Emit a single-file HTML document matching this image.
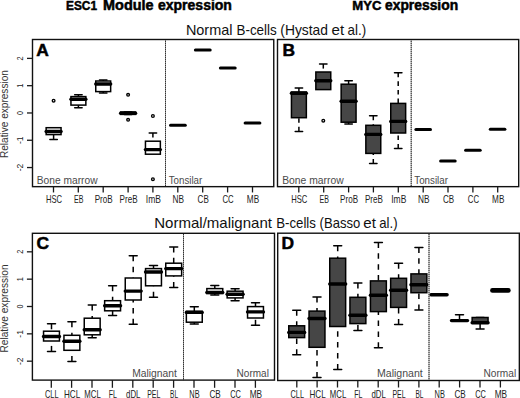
<!DOCTYPE html><html><head><meta charset="utf-8"><style>html,body{margin:0;padding:0;background:#fff;overflow:hidden;}svg{display:block;font-family:"Liberation Sans", sans-serif;}</style></head><body>
<svg width="520" height="398" viewBox="0 0 520 398">
<rect x="0" y="0" width="520" height="398" fill="#fff"/>
<text x="66.1" y="10.1" font-size="13.6" fill="#000" font-weight="bold" text-anchor="start" textLength="30.9" lengthAdjust="spacingAndGlyphs" stroke="#000" stroke-width="0.5">ESC1</text>
<text x="103.1" y="10.1" font-size="13.8" fill="#000" font-weight="bold" text-anchor="start" textLength="50.5" lengthAdjust="spacingAndGlyphs" stroke="#000" stroke-width="0.5">Module</text>
<text x="158" y="10.1" font-size="13.8" fill="#000" font-weight="bold" text-anchor="start" textLength="73.9" lengthAdjust="spacingAndGlyphs" stroke="#000" stroke-width="0.5">expression</text>
<text x="352.3" y="10.1" font-size="13.6" fill="#000" font-weight="bold" text-anchor="start" textLength="29.05" lengthAdjust="spacingAndGlyphs" stroke="#000" stroke-width="0.5">MYC</text>
<text x="385" y="10.1" font-size="13.8" fill="#000" font-weight="bold" text-anchor="start" textLength="73.1" lengthAdjust="spacingAndGlyphs" stroke="#000" stroke-width="0.5">expression</text>
<text x="185.9" y="35" font-size="14.2" fill="#111" font-weight="normal" text-anchor="start" textLength="46.6" lengthAdjust="spacingAndGlyphs">Normal</text>
<text x="236.5" y="35" font-size="14.2" fill="#111" font-weight="normal" text-anchor="start" textLength="40.2" lengthAdjust="spacingAndGlyphs">B-cells</text>
<text x="280.3" y="35" font-size="14.2" fill="#111" font-weight="normal" text-anchor="start" textLength="47.7" lengthAdjust="spacingAndGlyphs">(Hystad</text>
<text x="331.6" y="35" font-size="14.2" fill="#111" font-weight="normal" text-anchor="start" textLength="12.6" lengthAdjust="spacingAndGlyphs">et</text>
<text x="347.6" y="35" font-size="14.2" fill="#111" font-weight="normal" text-anchor="start" textLength="18.6" lengthAdjust="spacingAndGlyphs">al.)</text>
<text x="154.2" y="227.6" font-size="14.2" fill="#111" font-weight="normal" text-anchor="start" textLength="117.8" lengthAdjust="spacingAndGlyphs">Normal/malignant</text>
<text x="276.2" y="227.6" font-size="14.2" fill="#111" font-weight="normal" text-anchor="start" textLength="39.7" lengthAdjust="spacingAndGlyphs">B-cells</text>
<text x="319.6" y="227.6" font-size="14.2" fill="#111" font-weight="normal" text-anchor="start" textLength="40.7" lengthAdjust="spacingAndGlyphs">(Basso</text>
<text x="363.3" y="227.6" font-size="14.2" fill="#111" font-weight="normal" text-anchor="start" textLength="12.6" lengthAdjust="spacingAndGlyphs">et</text>
<text x="379.3" y="227.6" font-size="14.2" fill="#111" font-weight="normal" text-anchor="start" textLength="18.3" lengthAdjust="spacingAndGlyphs">al.)</text>
<line x1="53.6" y1="139.5" x2="53.6" y2="134.6" stroke="#000" stroke-width="1.5" stroke-linecap="butt" stroke-dasharray="4.6 4.0"/>
<line x1="49.88" y1="139.5" x2="57.33" y2="139.5" stroke="#000" stroke-width="1.5" stroke-linecap="round"/>
<rect x="46.15" y="127.7" width="14.9" height="6.9" fill="#fff" stroke="#000" stroke-width="1.5"/>
<line x1="46.15" y1="131.5" x2="61.05" y2="131.5" stroke="#000" stroke-width="3.4" stroke-linecap="round"/>
<circle cx="53.6" cy="100.7" r="1.35" fill="none" stroke="#000" stroke-width="1.35"/>
<line x1="78.4" y1="94.8" x2="78.4" y2="96.6" stroke="#000" stroke-width="1.5" stroke-linecap="butt" stroke-dasharray="4.6 4.0"/>
<line x1="78.4" y1="107.7" x2="78.4" y2="105.1" stroke="#000" stroke-width="1.5" stroke-linecap="butt" stroke-dasharray="4.6 4.0"/>
<line x1="74.68" y1="94.8" x2="82.12" y2="94.8" stroke="#000" stroke-width="1.5" stroke-linecap="round"/>
<line x1="74.68" y1="107.7" x2="82.12" y2="107.7" stroke="#000" stroke-width="1.5" stroke-linecap="round"/>
<rect x="70.95" y="96.6" width="14.9" height="8.5" fill="#fff" stroke="#000" stroke-width="1.5"/>
<line x1="70.95" y1="99.25" x2="85.85" y2="99.25" stroke="#000" stroke-width="3.4" stroke-linecap="round"/>
<line x1="103.2" y1="79.9" x2="103.2" y2="81" stroke="#000" stroke-width="1.5" stroke-linecap="butt" stroke-dasharray="4.6 4.0"/>
<line x1="103.2" y1="93" x2="103.2" y2="91.6" stroke="#000" stroke-width="1.5" stroke-linecap="butt" stroke-dasharray="4.6 4.0"/>
<line x1="99.48" y1="79.9" x2="106.92" y2="79.9" stroke="#000" stroke-width="1.5" stroke-linecap="round"/>
<line x1="99.48" y1="93" x2="106.92" y2="93" stroke="#000" stroke-width="1.5" stroke-linecap="round"/>
<rect x="95.75" y="81" width="14.9" height="10.6" fill="#fff" stroke="#000" stroke-width="1.5"/>
<line x1="95.75" y1="84" x2="110.65" y2="84" stroke="#000" stroke-width="3.4" stroke-linecap="round"/>
<line x1="124.38" y1="111.9" x2="131.82" y2="111.9" stroke="#000" stroke-width="1.5" stroke-linecap="round"/>
<line x1="124.38" y1="114.5" x2="131.82" y2="114.5" stroke="#000" stroke-width="1.5" stroke-linecap="round"/>
<rect x="120.65" y="112" width="14.9" height="2.4" fill="#fff" stroke="#000" stroke-width="1.5"/>
<line x1="120.65" y1="113.2" x2="135.55" y2="113.2" stroke="#000" stroke-width="3.4" stroke-linecap="round"/>
<circle cx="128.1" cy="94.8" r="1.35" fill="none" stroke="#000" stroke-width="1.35"/>
<circle cx="128.1" cy="119.8" r="1.35" fill="none" stroke="#000" stroke-width="1.35"/>
<line x1="152.9" y1="132.9" x2="152.9" y2="141.2" stroke="#000" stroke-width="1.5" stroke-linecap="butt" stroke-dasharray="4.6 4.0"/>
<line x1="149.18" y1="132.9" x2="156.62" y2="132.9" stroke="#000" stroke-width="1.5" stroke-linecap="round"/>
<rect x="145.45" y="141.2" width="14.9" height="13" fill="#fff" stroke="#000" stroke-width="1.5"/>
<line x1="145.45" y1="149.6" x2="160.35" y2="149.6" stroke="#000" stroke-width="3.4" stroke-linecap="round"/>
<circle cx="152.9" cy="116" r="1.35" fill="none" stroke="#000" stroke-width="1.35"/>
<circle cx="152.9" cy="179.2" r="1.35" fill="none" stroke="#000" stroke-width="1.35"/>
<line x1="170.5" y1="125.3" x2="185.3" y2="125.3" stroke="#000" stroke-width="3" stroke-linecap="round"/>
<line x1="195.4" y1="50.1" x2="210.2" y2="50.1" stroke="#000" stroke-width="3" stroke-linecap="round"/>
<line x1="220.4" y1="68.1" x2="235.2" y2="68.1" stroke="#000" stroke-width="3" stroke-linecap="round"/>
<line x1="245.1" y1="123.1" x2="259.9" y2="123.1" stroke="#000" stroke-width="3" stroke-linecap="round"/>
<line x1="165.5" y1="39.5" x2="165.5" y2="186.65" stroke="#8c8c8c" stroke-width="1" stroke-linecap="butt"/>
<line x1="165.5" y1="39" x2="165.5" y2="186.65" stroke="#333" stroke-width="1" stroke-linecap="butt" stroke-dasharray="1 1"/>
<rect x="32.5" y="39.5" width="241.25" height="147.15" fill="none" stroke="#111" stroke-width="1.4"/>
<text x="36.3" y="55.9" font-size="17.4" fill="#000" font-weight="bold" text-anchor="start" stroke="#000" stroke-width="0.5">A</text>
<text x="36.8" y="183.8" font-size="10.2" fill="#4a4a4a" font-weight="normal" text-anchor="start" textLength="60.8" lengthAdjust="spacingAndGlyphs">Bone marrow</text>
<text x="168.7" y="183.8" font-size="10.2" fill="#4a4a4a" font-weight="normal" text-anchor="start" textLength="33.6" lengthAdjust="spacingAndGlyphs">Tonsilar</text>
<line x1="27" y1="58.39" x2="32.5" y2="58.39" stroke="#1a1a1a" stroke-width="1.3" stroke-linecap="butt"/>
<text transform="translate(23.2,58.39) rotate(-90)" font-size="8.6" fill="#222" text-anchor="middle" textLength="4" lengthAdjust="spacingAndGlyphs">2</text>
<line x1="27" y1="85.68" x2="32.5" y2="85.68" stroke="#1a1a1a" stroke-width="1.3" stroke-linecap="butt"/>
<text transform="translate(23.2,85.68) rotate(-90)" font-size="8.6" fill="#222" text-anchor="middle" textLength="4" lengthAdjust="spacingAndGlyphs">1</text>
<line x1="27" y1="112.97" x2="32.5" y2="112.97" stroke="#1a1a1a" stroke-width="1.3" stroke-linecap="butt"/>
<text transform="translate(23.2,112.97) rotate(-90)" font-size="8.6" fill="#222" text-anchor="middle" textLength="4" lengthAdjust="spacingAndGlyphs">0</text>
<line x1="27" y1="140.26" x2="32.5" y2="140.26" stroke="#1a1a1a" stroke-width="1.3" stroke-linecap="butt"/>
<text transform="translate(23.2,140.26) rotate(-90)" font-size="8.6" fill="#222" text-anchor="middle" textLength="7.6" lengthAdjust="spacingAndGlyphs">-1</text>
<line x1="27" y1="167.55" x2="32.5" y2="167.55" stroke="#1a1a1a" stroke-width="1.3" stroke-linecap="butt"/>
<text transform="translate(23.2,167.55) rotate(-90)" font-size="8.6" fill="#222" text-anchor="middle" textLength="7.6" lengthAdjust="spacingAndGlyphs">-2</text>
<text transform="translate(7.8,114.1) rotate(-90)" font-size="10" fill="#333" text-anchor="middle" textLength="88" lengthAdjust="spacingAndGlyphs">Relative expression</text>
<line x1="53.5" y1="186.65" x2="53.5" y2="192.45" stroke="#1a1a1a" stroke-width="1.3" stroke-linecap="butt"/>
<text x="54" y="202.9" font-size="10.1" fill="#222" font-weight="normal" text-anchor="middle" textLength="16.1" lengthAdjust="spacingAndGlyphs">HSC</text>
<line x1="78.3" y1="186.65" x2="78.3" y2="192.45" stroke="#1a1a1a" stroke-width="1.3" stroke-linecap="butt"/>
<text x="78.8" y="202.9" font-size="10.1" fill="#222" font-weight="normal" text-anchor="middle" textLength="9.4" lengthAdjust="spacingAndGlyphs">EB</text>
<line x1="103.2" y1="186.65" x2="103.2" y2="192.45" stroke="#1a1a1a" stroke-width="1.3" stroke-linecap="butt"/>
<text x="103.7" y="202.9" font-size="10.1" fill="#222" font-weight="normal" text-anchor="middle" textLength="18" lengthAdjust="spacingAndGlyphs">ProB</text>
<line x1="128.1" y1="186.65" x2="128.1" y2="192.45" stroke="#1a1a1a" stroke-width="1.3" stroke-linecap="butt"/>
<text x="128.6" y="202.9" font-size="10.1" fill="#222" font-weight="normal" text-anchor="middle" textLength="18" lengthAdjust="spacingAndGlyphs">PreB</text>
<line x1="152.9" y1="186.65" x2="152.9" y2="192.45" stroke="#1a1a1a" stroke-width="1.3" stroke-linecap="butt"/>
<text x="153.4" y="202.9" font-size="10.1" fill="#222" font-weight="normal" text-anchor="middle" textLength="15.1" lengthAdjust="spacingAndGlyphs">ImB</text>
<line x1="177.8" y1="186.65" x2="177.8" y2="192.45" stroke="#1a1a1a" stroke-width="1.3" stroke-linecap="butt"/>
<text x="178.3" y="202.9" font-size="10.1" fill="#222" font-weight="normal" text-anchor="middle" textLength="11.5" lengthAdjust="spacingAndGlyphs">NB</text>
<line x1="202.7" y1="186.65" x2="202.7" y2="192.45" stroke="#1a1a1a" stroke-width="1.3" stroke-linecap="butt"/>
<text x="203.2" y="202.9" font-size="10.1" fill="#222" font-weight="normal" text-anchor="middle" textLength="11.2" lengthAdjust="spacingAndGlyphs">CB</text>
<line x1="227.6" y1="186.65" x2="227.6" y2="192.45" stroke="#1a1a1a" stroke-width="1.3" stroke-linecap="butt"/>
<text x="228.1" y="202.9" font-size="10.1" fill="#222" font-weight="normal" text-anchor="middle" textLength="11.2" lengthAdjust="spacingAndGlyphs">CC</text>
<line x1="252.5" y1="186.65" x2="252.5" y2="192.45" stroke="#1a1a1a" stroke-width="1.3" stroke-linecap="butt"/>
<text x="253" y="202.9" font-size="10.1" fill="#222" font-weight="normal" text-anchor="middle" textLength="12.3" lengthAdjust="spacingAndGlyphs">MB</text>
<line x1="298.9" y1="88.05" x2="298.9" y2="92" stroke="#000" stroke-width="1.5" stroke-linecap="butt" stroke-dasharray="4.6 4.0"/>
<line x1="298.9" y1="131.4" x2="298.9" y2="117.7" stroke="#000" stroke-width="1.5" stroke-linecap="butt" stroke-dasharray="4.6 4.0"/>
<line x1="295.17" y1="88.05" x2="302.62" y2="88.05" stroke="#000" stroke-width="1.5" stroke-linecap="round"/>
<line x1="295.17" y1="131.4" x2="302.62" y2="131.4" stroke="#000" stroke-width="1.5" stroke-linecap="round"/>
<rect x="291.45" y="92" width="14.9" height="25.7" fill="#464646" stroke="#000" stroke-width="1.5"/>
<line x1="291.45" y1="93.3" x2="306.35" y2="93.3" stroke="#000" stroke-width="3.4" stroke-linecap="round"/>
<line x1="323.3" y1="64" x2="323.3" y2="72" stroke="#000" stroke-width="1.5" stroke-linecap="butt" stroke-dasharray="4.6 4.0"/>
<line x1="319.57" y1="64" x2="327.03" y2="64" stroke="#000" stroke-width="1.5" stroke-linecap="round"/>
<rect x="315.85" y="72" width="14.9" height="17.6" fill="#464646" stroke="#000" stroke-width="1.5"/>
<line x1="315.85" y1="80.7" x2="330.75" y2="80.7" stroke="#000" stroke-width="3.4" stroke-linecap="round"/>
<circle cx="323.3" cy="120.7" r="1.35" fill="none" stroke="#000" stroke-width="1.35"/>
<line x1="348.6" y1="80.8" x2="348.6" y2="84.2" stroke="#000" stroke-width="1.5" stroke-linecap="butt" stroke-dasharray="4.6 4.0"/>
<line x1="348.6" y1="124.1" x2="348.6" y2="122.2" stroke="#000" stroke-width="1.5" stroke-linecap="butt" stroke-dasharray="4.6 4.0"/>
<line x1="344.88" y1="80.8" x2="352.33" y2="80.8" stroke="#000" stroke-width="1.5" stroke-linecap="round"/>
<line x1="344.88" y1="124.1" x2="352.33" y2="124.1" stroke="#000" stroke-width="1.5" stroke-linecap="round"/>
<rect x="341.15" y="84.2" width="14.9" height="38" fill="#464646" stroke="#000" stroke-width="1.5"/>
<line x1="341.15" y1="101.3" x2="356.05" y2="101.3" stroke="#000" stroke-width="3.4" stroke-linecap="round"/>
<line x1="373.3" y1="115.7" x2="373.3" y2="125.3" stroke="#000" stroke-width="1.5" stroke-linecap="butt" stroke-dasharray="4.6 4.0"/>
<line x1="373.3" y1="163.5" x2="373.3" y2="153.4" stroke="#000" stroke-width="1.5" stroke-linecap="butt" stroke-dasharray="4.6 4.0"/>
<line x1="369.57" y1="115.7" x2="377.03" y2="115.7" stroke="#000" stroke-width="1.5" stroke-linecap="round"/>
<line x1="369.57" y1="163.5" x2="377.03" y2="163.5" stroke="#000" stroke-width="1.5" stroke-linecap="round"/>
<rect x="365.85" y="125.3" width="14.9" height="28.1" fill="#464646" stroke="#000" stroke-width="1.5"/>
<line x1="365.85" y1="134.4" x2="380.75" y2="134.4" stroke="#000" stroke-width="3.4" stroke-linecap="round"/>
<line x1="398.2" y1="72.7" x2="398.2" y2="103.4" stroke="#000" stroke-width="1.5" stroke-linecap="butt" stroke-dasharray="4.6 4.0"/>
<line x1="398.2" y1="148.6" x2="398.2" y2="133" stroke="#000" stroke-width="1.5" stroke-linecap="butt" stroke-dasharray="4.6 4.0"/>
<line x1="394.47" y1="72.7" x2="401.93" y2="72.7" stroke="#000" stroke-width="1.5" stroke-linecap="round"/>
<line x1="394.47" y1="148.6" x2="401.93" y2="148.6" stroke="#000" stroke-width="1.5" stroke-linecap="round"/>
<rect x="390.75" y="103.4" width="14.9" height="29.6" fill="#464646" stroke="#000" stroke-width="1.5"/>
<line x1="390.75" y1="121.4" x2="405.65" y2="121.4" stroke="#000" stroke-width="3.4" stroke-linecap="round"/>
<line x1="415.9" y1="129.5" x2="430.5" y2="129.5" stroke="#000" stroke-width="3" stroke-linecap="round"/>
<line x1="440.6" y1="161" x2="455.2" y2="161" stroke="#000" stroke-width="3" stroke-linecap="round"/>
<line x1="465.6" y1="150.2" x2="480.2" y2="150.2" stroke="#000" stroke-width="3" stroke-linecap="round"/>
<line x1="490.3" y1="129.2" x2="504.9" y2="129.2" stroke="#000" stroke-width="3" stroke-linecap="round"/>
<line x1="411.2" y1="39.5" x2="411.2" y2="186.65" stroke="#8c8c8c" stroke-width="1" stroke-linecap="butt"/>
<line x1="411.2" y1="39" x2="411.2" y2="186.65" stroke="#333" stroke-width="1" stroke-linecap="butt" stroke-dasharray="1 1"/>
<rect x="277.5" y="39.5" width="241.2" height="147.15" fill="none" stroke="#111" stroke-width="1.4"/>
<text x="282.4" y="55.9" font-size="17.4" fill="#000" font-weight="bold" text-anchor="start" stroke="#000" stroke-width="0.5">B</text>
<text x="282.2" y="183.8" font-size="10.2" fill="#4a4a4a" font-weight="normal" text-anchor="start" textLength="61.5" lengthAdjust="spacingAndGlyphs">Bone marrow</text>
<text x="414.3" y="183.8" font-size="10.2" fill="#4a4a4a" font-weight="normal" text-anchor="start" textLength="33.6" lengthAdjust="spacingAndGlyphs">Tonsilar</text>
<line x1="298.8" y1="186.65" x2="298.8" y2="192.45" stroke="#1a1a1a" stroke-width="1.3" stroke-linecap="butt"/>
<text x="299.3" y="202.9" font-size="10.1" fill="#222" font-weight="normal" text-anchor="middle" textLength="16.1" lengthAdjust="spacingAndGlyphs">HSC</text>
<line x1="323.7" y1="186.65" x2="323.7" y2="192.45" stroke="#1a1a1a" stroke-width="1.3" stroke-linecap="butt"/>
<text x="324.2" y="202.9" font-size="10.1" fill="#222" font-weight="normal" text-anchor="middle" textLength="9.4" lengthAdjust="spacingAndGlyphs">EB</text>
<line x1="348.6" y1="186.65" x2="348.6" y2="192.45" stroke="#1a1a1a" stroke-width="1.3" stroke-linecap="butt"/>
<text x="349.1" y="202.9" font-size="10.1" fill="#222" font-weight="normal" text-anchor="middle" textLength="18" lengthAdjust="spacingAndGlyphs">ProB</text>
<line x1="373.4" y1="186.65" x2="373.4" y2="192.45" stroke="#1a1a1a" stroke-width="1.3" stroke-linecap="butt"/>
<text x="373.9" y="202.9" font-size="10.1" fill="#222" font-weight="normal" text-anchor="middle" textLength="18" lengthAdjust="spacingAndGlyphs">PreB</text>
<line x1="398.3" y1="186.65" x2="398.3" y2="192.45" stroke="#1a1a1a" stroke-width="1.3" stroke-linecap="butt"/>
<text x="398.8" y="202.9" font-size="10.1" fill="#222" font-weight="normal" text-anchor="middle" textLength="15.1" lengthAdjust="spacingAndGlyphs">ImB</text>
<line x1="423.2" y1="186.65" x2="423.2" y2="192.45" stroke="#1a1a1a" stroke-width="1.3" stroke-linecap="butt"/>
<text x="423.7" y="202.9" font-size="10.1" fill="#222" font-weight="normal" text-anchor="middle" textLength="11.5" lengthAdjust="spacingAndGlyphs">NB</text>
<line x1="448" y1="186.65" x2="448" y2="192.45" stroke="#1a1a1a" stroke-width="1.3" stroke-linecap="butt"/>
<text x="448.5" y="202.9" font-size="10.1" fill="#222" font-weight="normal" text-anchor="middle" textLength="11.2" lengthAdjust="spacingAndGlyphs">CB</text>
<line x1="472.9" y1="186.65" x2="472.9" y2="192.45" stroke="#1a1a1a" stroke-width="1.3" stroke-linecap="butt"/>
<text x="473.4" y="202.9" font-size="10.1" fill="#222" font-weight="normal" text-anchor="middle" textLength="11.2" lengthAdjust="spacingAndGlyphs">CC</text>
<line x1="497.7" y1="186.65" x2="497.7" y2="192.45" stroke="#1a1a1a" stroke-width="1.3" stroke-linecap="butt"/>
<text x="498.2" y="202.9" font-size="10.1" fill="#222" font-weight="normal" text-anchor="middle" textLength="12.3" lengthAdjust="spacingAndGlyphs">MB</text>
<line x1="51.5" y1="323.8" x2="51.5" y2="331.2" stroke="#000" stroke-width="1.5" stroke-linecap="butt" stroke-dasharray="5.5 5.4"/>
<line x1="51.5" y1="351.4" x2="51.5" y2="341" stroke="#000" stroke-width="1.5" stroke-linecap="butt" stroke-dasharray="5.5 5.4"/>
<line x1="47.52" y1="323.8" x2="55.48" y2="323.8" stroke="#000" stroke-width="1.5" stroke-linecap="round"/>
<line x1="47.52" y1="351.4" x2="55.48" y2="351.4" stroke="#000" stroke-width="1.5" stroke-linecap="round"/>
<rect x="43.55" y="331.2" width="15.9" height="9.8" fill="#fff" stroke="#000" stroke-width="1.5"/>
<line x1="43.55" y1="336.5" x2="59.45" y2="336.5" stroke="#000" stroke-width="3.4" stroke-linecap="round"/>
<line x1="71.9" y1="321.8" x2="71.9" y2="335.3" stroke="#000" stroke-width="1.5" stroke-linecap="butt" stroke-dasharray="5.5 5.4"/>
<line x1="71.9" y1="361.4" x2="71.9" y2="350.3" stroke="#000" stroke-width="1.5" stroke-linecap="butt" stroke-dasharray="5.5 5.4"/>
<line x1="67.93" y1="321.8" x2="75.88" y2="321.8" stroke="#000" stroke-width="1.5" stroke-linecap="round"/>
<line x1="67.93" y1="361.4" x2="75.88" y2="361.4" stroke="#000" stroke-width="1.5" stroke-linecap="round"/>
<rect x="63.95" y="335.3" width="15.9" height="15" fill="#fff" stroke="#000" stroke-width="1.5"/>
<line x1="63.95" y1="341.3" x2="79.85" y2="341.3" stroke="#000" stroke-width="3.4" stroke-linecap="round"/>
<line x1="92.2" y1="305" x2="92.2" y2="318.2" stroke="#000" stroke-width="1.5" stroke-linecap="butt" stroke-dasharray="5.5 5.4"/>
<line x1="92.2" y1="337.8" x2="92.2" y2="334.8" stroke="#000" stroke-width="1.5" stroke-linecap="butt" stroke-dasharray="5.5 5.4"/>
<line x1="88.23" y1="305" x2="96.17" y2="305" stroke="#000" stroke-width="1.5" stroke-linecap="round"/>
<line x1="88.23" y1="337.8" x2="96.17" y2="337.8" stroke="#000" stroke-width="1.5" stroke-linecap="round"/>
<rect x="84.25" y="318.2" width="15.9" height="16.6" fill="#fff" stroke="#000" stroke-width="1.5"/>
<line x1="84.25" y1="329.8" x2="100.15" y2="329.8" stroke="#000" stroke-width="3.4" stroke-linecap="round"/>
<line x1="112.6" y1="285.8" x2="112.6" y2="300.7" stroke="#000" stroke-width="1.5" stroke-linecap="butt" stroke-dasharray="5.5 5.4"/>
<line x1="112.6" y1="315.4" x2="112.6" y2="310.8" stroke="#000" stroke-width="1.5" stroke-linecap="butt" stroke-dasharray="5.5 5.4"/>
<line x1="108.62" y1="285.8" x2="116.57" y2="285.8" stroke="#000" stroke-width="1.5" stroke-linecap="round"/>
<line x1="108.62" y1="315.4" x2="116.57" y2="315.4" stroke="#000" stroke-width="1.5" stroke-linecap="round"/>
<rect x="104.65" y="300.7" width="15.9" height="10.1" fill="#fff" stroke="#000" stroke-width="1.5"/>
<line x1="104.65" y1="305.7" x2="120.55" y2="305.7" stroke="#000" stroke-width="3.4" stroke-linecap="round"/>
<line x1="133.2" y1="255.8" x2="133.2" y2="278" stroke="#000" stroke-width="1.5" stroke-linecap="butt" stroke-dasharray="5.5 5.4"/>
<line x1="133.2" y1="324.3" x2="133.2" y2="300" stroke="#000" stroke-width="1.5" stroke-linecap="butt" stroke-dasharray="5.5 5.4"/>
<line x1="129.22" y1="255.8" x2="137.17" y2="255.8" stroke="#000" stroke-width="1.5" stroke-linecap="round"/>
<line x1="129.22" y1="324.3" x2="137.17" y2="324.3" stroke="#000" stroke-width="1.5" stroke-linecap="round"/>
<rect x="125.25" y="278" width="15.9" height="22" fill="#fff" stroke="#000" stroke-width="1.5"/>
<line x1="125.25" y1="291.1" x2="141.15" y2="291.1" stroke="#000" stroke-width="3.4" stroke-linecap="round"/>
<line x1="153.5" y1="265.4" x2="153.5" y2="268.6" stroke="#000" stroke-width="1.5" stroke-linecap="butt" stroke-dasharray="5.5 5.4"/>
<line x1="153.5" y1="297.2" x2="153.5" y2="285.8" stroke="#000" stroke-width="1.5" stroke-linecap="butt" stroke-dasharray="5.5 5.4"/>
<line x1="149.53" y1="265.4" x2="157.47" y2="265.4" stroke="#000" stroke-width="1.5" stroke-linecap="round"/>
<line x1="149.53" y1="297.2" x2="157.47" y2="297.2" stroke="#000" stroke-width="1.5" stroke-linecap="round"/>
<rect x="145.55" y="268.6" width="15.9" height="17.2" fill="#fff" stroke="#000" stroke-width="1.5"/>
<line x1="145.55" y1="272" x2="161.45" y2="272" stroke="#000" stroke-width="3.4" stroke-linecap="round"/>
<line x1="173.7" y1="246.9" x2="173.7" y2="263.2" stroke="#000" stroke-width="1.5" stroke-linecap="butt" stroke-dasharray="5.5 5.4"/>
<line x1="173.7" y1="287.6" x2="173.7" y2="275.9" stroke="#000" stroke-width="1.5" stroke-linecap="butt" stroke-dasharray="5.5 5.4"/>
<line x1="169.72" y1="246.9" x2="177.67" y2="246.9" stroke="#000" stroke-width="1.5" stroke-linecap="round"/>
<line x1="169.72" y1="287.6" x2="177.67" y2="287.6" stroke="#000" stroke-width="1.5" stroke-linecap="round"/>
<rect x="165.75" y="263.2" width="15.9" height="12.7" fill="#fff" stroke="#000" stroke-width="1.5"/>
<line x1="165.75" y1="268.6" x2="181.65" y2="268.6" stroke="#000" stroke-width="3.4" stroke-linecap="round"/>
<line x1="194.3" y1="306.8" x2="194.3" y2="311.3" stroke="#000" stroke-width="1.5" stroke-linecap="butt" stroke-dasharray="5.5 5.4"/>
<line x1="194.3" y1="324.1" x2="194.3" y2="322.2" stroke="#000" stroke-width="1.5" stroke-linecap="butt" stroke-dasharray="5.5 5.4"/>
<line x1="190.33" y1="306.8" x2="198.28" y2="306.8" stroke="#000" stroke-width="1.5" stroke-linecap="round"/>
<line x1="190.33" y1="324.1" x2="198.28" y2="324.1" stroke="#000" stroke-width="1.5" stroke-linecap="round"/>
<rect x="186.35" y="311.3" width="15.9" height="10.9" fill="#fff" stroke="#000" stroke-width="1.5"/>
<line x1="186.35" y1="312.4" x2="202.25" y2="312.4" stroke="#000" stroke-width="3.4" stroke-linecap="round"/>
<line x1="214.8" y1="285.6" x2="214.8" y2="288.6" stroke="#000" stroke-width="1.5" stroke-linecap="butt" stroke-dasharray="5.5 5.4"/>
<line x1="214.8" y1="295" x2="214.8" y2="293.6" stroke="#000" stroke-width="1.5" stroke-linecap="butt" stroke-dasharray="5.5 5.4"/>
<line x1="210.83" y1="285.6" x2="218.78" y2="285.6" stroke="#000" stroke-width="1.5" stroke-linecap="round"/>
<line x1="210.83" y1="295" x2="218.78" y2="295" stroke="#000" stroke-width="1.5" stroke-linecap="round"/>
<rect x="206.85" y="288.6" width="15.9" height="5" fill="#fff" stroke="#000" stroke-width="1.5"/>
<line x1="206.85" y1="292.4" x2="222.75" y2="292.4" stroke="#000" stroke-width="3.4" stroke-linecap="round"/>
<line x1="235.1" y1="288.7" x2="235.1" y2="291.2" stroke="#000" stroke-width="1.5" stroke-linecap="butt" stroke-dasharray="5.5 5.4"/>
<line x1="235.1" y1="300.7" x2="235.1" y2="297.9" stroke="#000" stroke-width="1.5" stroke-linecap="butt" stroke-dasharray="5.5 5.4"/>
<line x1="231.12" y1="288.7" x2="239.07" y2="288.7" stroke="#000" stroke-width="1.5" stroke-linecap="round"/>
<line x1="231.12" y1="300.7" x2="239.07" y2="300.7" stroke="#000" stroke-width="1.5" stroke-linecap="round"/>
<rect x="227.15" y="291.2" width="15.9" height="6.7" fill="#fff" stroke="#000" stroke-width="1.5"/>
<line x1="227.15" y1="294.3" x2="243.05" y2="294.3" stroke="#000" stroke-width="3.4" stroke-linecap="round"/>
<line x1="255.5" y1="302.7" x2="255.5" y2="306.6" stroke="#000" stroke-width="1.5" stroke-linecap="butt" stroke-dasharray="5.5 5.4"/>
<line x1="255.5" y1="325.3" x2="255.5" y2="318" stroke="#000" stroke-width="1.5" stroke-linecap="butt" stroke-dasharray="5.5 5.4"/>
<line x1="251.53" y1="302.7" x2="259.48" y2="302.7" stroke="#000" stroke-width="1.5" stroke-linecap="round"/>
<line x1="251.53" y1="325.3" x2="259.48" y2="325.3" stroke="#000" stroke-width="1.5" stroke-linecap="round"/>
<rect x="247.55" y="306.6" width="15.9" height="11.4" fill="#fff" stroke="#000" stroke-width="1.5"/>
<line x1="247.55" y1="311.9" x2="263.45" y2="311.9" stroke="#000" stroke-width="3.4" stroke-linecap="round"/>
<line x1="183.5" y1="233.3" x2="183.5" y2="380.1" stroke="#8c8c8c" stroke-width="1" stroke-linecap="butt"/>
<line x1="183.5" y1="234" x2="183.5" y2="380.1" stroke="#333" stroke-width="1" stroke-linecap="butt" stroke-dasharray="1 1"/>
<rect x="32.4" y="233.3" width="242.1" height="146.8" fill="none" stroke="#111" stroke-width="1.4"/>
<text x="36.6" y="249.2" font-size="17.4" fill="#000" font-weight="bold" text-anchor="start" stroke="#000" stroke-width="0.5">C</text>
<text x="132.2" y="376.7" font-size="10.4" fill="#4a4a4a" font-weight="normal" text-anchor="start" textLength="44.7" lengthAdjust="spacingAndGlyphs">Malignant</text>
<text x="236.6" y="376.9" font-size="10.4" fill="#4a4a4a" font-weight="normal" text-anchor="start" textLength="32.3" lengthAdjust="spacingAndGlyphs">Normal</text>
<line x1="26.9" y1="251.82" x2="32.4" y2="251.82" stroke="#1a1a1a" stroke-width="1.3" stroke-linecap="butt"/>
<text transform="translate(23.2,251.82) rotate(-90)" font-size="8.6" fill="#222" text-anchor="middle" textLength="4" lengthAdjust="spacingAndGlyphs">2</text>
<line x1="26.9" y1="279.16" x2="32.4" y2="279.16" stroke="#1a1a1a" stroke-width="1.3" stroke-linecap="butt"/>
<text transform="translate(23.2,279.16) rotate(-90)" font-size="8.6" fill="#222" text-anchor="middle" textLength="4" lengthAdjust="spacingAndGlyphs">1</text>
<line x1="26.9" y1="306.5" x2="32.4" y2="306.5" stroke="#1a1a1a" stroke-width="1.3" stroke-linecap="butt"/>
<text transform="translate(23.2,306.5) rotate(-90)" font-size="8.6" fill="#222" text-anchor="middle" textLength="4" lengthAdjust="spacingAndGlyphs">0</text>
<line x1="26.9" y1="333.84" x2="32.4" y2="333.84" stroke="#1a1a1a" stroke-width="1.3" stroke-linecap="butt"/>
<text transform="translate(23.2,333.84) rotate(-90)" font-size="8.6" fill="#222" text-anchor="middle" textLength="7.6" lengthAdjust="spacingAndGlyphs">-1</text>
<line x1="26.9" y1="361.18" x2="32.4" y2="361.18" stroke="#1a1a1a" stroke-width="1.3" stroke-linecap="butt"/>
<text transform="translate(23.2,361.18) rotate(-90)" font-size="8.6" fill="#222" text-anchor="middle" textLength="7.6" lengthAdjust="spacingAndGlyphs">-2</text>
<text transform="translate(7.8,308.5) rotate(-90)" font-size="10" fill="#333" text-anchor="middle" textLength="88" lengthAdjust="spacingAndGlyphs">Relative expression</text>
<line x1="51.3" y1="380.1" x2="51.3" y2="387.8" stroke="#1a1a1a" stroke-width="1.3" stroke-linecap="butt"/>
<text x="51.8" y="398" font-size="10.1" fill="#222" font-weight="normal" text-anchor="middle" textLength="13.5" lengthAdjust="spacingAndGlyphs">CLL</text>
<line x1="71.6" y1="380.1" x2="71.6" y2="387.8" stroke="#1a1a1a" stroke-width="1.3" stroke-linecap="butt"/>
<text x="72.1" y="398" font-size="10.1" fill="#222" font-weight="normal" text-anchor="middle" textLength="16.2" lengthAdjust="spacingAndGlyphs">HCL</text>
<line x1="92" y1="380.1" x2="92" y2="387.8" stroke="#1a1a1a" stroke-width="1.3" stroke-linecap="butt"/>
<text x="92.5" y="398" font-size="10.1" fill="#222" font-weight="normal" text-anchor="middle" textLength="16.4" lengthAdjust="spacingAndGlyphs">MCL</text>
<line x1="112.4" y1="380.1" x2="112.4" y2="387.8" stroke="#1a1a1a" stroke-width="1.3" stroke-linecap="butt"/>
<text x="112.9" y="398" font-size="10.1" fill="#222" font-weight="normal" text-anchor="middle" textLength="8.2" lengthAdjust="spacingAndGlyphs">FL</text>
<line x1="132.8" y1="380.1" x2="132.8" y2="387.8" stroke="#1a1a1a" stroke-width="1.3" stroke-linecap="butt"/>
<text x="133.3" y="398" font-size="10.1" fill="#222" font-weight="normal" text-anchor="middle" textLength="14.4" lengthAdjust="spacingAndGlyphs">dDL</text>
<line x1="153.2" y1="380.1" x2="153.2" y2="387.8" stroke="#1a1a1a" stroke-width="1.3" stroke-linecap="butt"/>
<text x="153.7" y="398" font-size="10.1" fill="#222" font-weight="normal" text-anchor="middle" textLength="13.1" lengthAdjust="spacingAndGlyphs">PEL</text>
<line x1="173.6" y1="380.1" x2="173.6" y2="387.8" stroke="#1a1a1a" stroke-width="1.3" stroke-linecap="butt"/>
<text x="174.1" y="398" font-size="10.1" fill="#222" font-weight="normal" text-anchor="middle" textLength="8" lengthAdjust="spacingAndGlyphs">BL</text>
<line x1="194" y1="380.1" x2="194" y2="387.8" stroke="#1a1a1a" stroke-width="1.3" stroke-linecap="butt"/>
<text x="194.5" y="398" font-size="10.1" fill="#222" font-weight="normal" text-anchor="middle" textLength="10.3" lengthAdjust="spacingAndGlyphs">NB</text>
<line x1="214.6" y1="380.1" x2="214.6" y2="387.8" stroke="#1a1a1a" stroke-width="1.3" stroke-linecap="butt"/>
<text x="215.1" y="398" font-size="10.1" fill="#222" font-weight="normal" text-anchor="middle" textLength="11.3" lengthAdjust="spacingAndGlyphs">CB</text>
<line x1="235" y1="380.1" x2="235" y2="387.8" stroke="#1a1a1a" stroke-width="1.3" stroke-linecap="butt"/>
<text x="235.5" y="398" font-size="10.1" fill="#222" font-weight="normal" text-anchor="middle" textLength="10.7" lengthAdjust="spacingAndGlyphs">CC</text>
<line x1="255.4" y1="380.1" x2="255.4" y2="387.8" stroke="#1a1a1a" stroke-width="1.3" stroke-linecap="butt"/>
<text x="255.9" y="398" font-size="10.1" fill="#222" font-weight="normal" text-anchor="middle" textLength="12.4" lengthAdjust="spacingAndGlyphs">MB</text>
<line x1="296.7" y1="310.3" x2="296.7" y2="325.8" stroke="#000" stroke-width="1.5" stroke-linecap="butt" stroke-dasharray="5.5 5.4"/>
<line x1="296.7" y1="354.8" x2="296.7" y2="337.6" stroke="#000" stroke-width="1.5" stroke-linecap="butt" stroke-dasharray="5.5 5.4"/>
<line x1="292.72" y1="310.3" x2="300.68" y2="310.3" stroke="#000" stroke-width="1.5" stroke-linecap="round"/>
<line x1="292.72" y1="354.8" x2="300.68" y2="354.8" stroke="#000" stroke-width="1.5" stroke-linecap="round"/>
<rect x="288.75" y="325.8" width="15.9" height="11.8" fill="#464646" stroke="#000" stroke-width="1.5"/>
<line x1="288.75" y1="332.4" x2="304.65" y2="332.4" stroke="#000" stroke-width="3.4" stroke-linecap="round"/>
<line x1="317" y1="297" x2="317" y2="311.1" stroke="#000" stroke-width="1.5" stroke-linecap="butt" stroke-dasharray="5.5 5.4"/>
<line x1="317" y1="377.4" x2="317" y2="347.3" stroke="#000" stroke-width="1.5" stroke-linecap="butt" stroke-dasharray="5.5 5.4"/>
<line x1="313.02" y1="297" x2="320.98" y2="297" stroke="#000" stroke-width="1.5" stroke-linecap="round"/>
<line x1="313.02" y1="377.4" x2="320.98" y2="377.4" stroke="#000" stroke-width="1.5" stroke-linecap="round"/>
<rect x="309.05" y="311.1" width="15.9" height="36.2" fill="#464646" stroke="#000" stroke-width="1.5"/>
<line x1="309.05" y1="318.5" x2="324.95" y2="318.5" stroke="#000" stroke-width="3.4" stroke-linecap="round"/>
<line x1="337.7" y1="245.7" x2="337.7" y2="258.2" stroke="#000" stroke-width="1.5" stroke-linecap="butt" stroke-dasharray="5.5 5.4"/>
<line x1="337.7" y1="369.4" x2="337.7" y2="326.5" stroke="#000" stroke-width="1.5" stroke-linecap="butt" stroke-dasharray="5.5 5.4"/>
<line x1="333.72" y1="245.7" x2="341.68" y2="245.7" stroke="#000" stroke-width="1.5" stroke-linecap="round"/>
<line x1="333.72" y1="369.4" x2="341.68" y2="369.4" stroke="#000" stroke-width="1.5" stroke-linecap="round"/>
<rect x="329.75" y="258.2" width="15.9" height="68.3" fill="#464646" stroke="#000" stroke-width="1.5"/>
<line x1="329.75" y1="284" x2="345.65" y2="284" stroke="#000" stroke-width="3.4" stroke-linecap="round"/>
<line x1="357.9" y1="282.9" x2="357.9" y2="297.3" stroke="#000" stroke-width="1.5" stroke-linecap="butt" stroke-dasharray="5.5 5.4"/>
<line x1="357.9" y1="330.6" x2="357.9" y2="323.6" stroke="#000" stroke-width="1.5" stroke-linecap="butt" stroke-dasharray="5.5 5.4"/>
<line x1="353.92" y1="282.9" x2="361.88" y2="282.9" stroke="#000" stroke-width="1.5" stroke-linecap="round"/>
<line x1="353.92" y1="330.6" x2="361.88" y2="330.6" stroke="#000" stroke-width="1.5" stroke-linecap="round"/>
<rect x="349.95" y="297.3" width="15.9" height="26.3" fill="#464646" stroke="#000" stroke-width="1.5"/>
<line x1="349.95" y1="315.3" x2="365.85" y2="315.3" stroke="#000" stroke-width="3.4" stroke-linecap="round"/>
<line x1="378.4" y1="242.4" x2="378.4" y2="280.9" stroke="#000" stroke-width="1.5" stroke-linecap="butt" stroke-dasharray="5.5 5.4"/>
<line x1="378.4" y1="347.8" x2="378.4" y2="311.6" stroke="#000" stroke-width="1.5" stroke-linecap="butt" stroke-dasharray="5.5 5.4"/>
<line x1="374.42" y1="242.4" x2="382.38" y2="242.4" stroke="#000" stroke-width="1.5" stroke-linecap="round"/>
<line x1="374.42" y1="347.8" x2="382.38" y2="347.8" stroke="#000" stroke-width="1.5" stroke-linecap="round"/>
<rect x="370.45" y="280.9" width="15.9" height="30.7" fill="#464646" stroke="#000" stroke-width="1.5"/>
<line x1="370.45" y1="295.3" x2="386.35" y2="295.3" stroke="#000" stroke-width="3.4" stroke-linecap="round"/>
<line x1="398.6" y1="263.3" x2="398.6" y2="278.3" stroke="#000" stroke-width="1.5" stroke-linecap="butt" stroke-dasharray="5.5 5.4"/>
<line x1="398.6" y1="324.4" x2="398.6" y2="307.4" stroke="#000" stroke-width="1.5" stroke-linecap="butt" stroke-dasharray="5.5 5.4"/>
<line x1="394.62" y1="263.3" x2="402.58" y2="263.3" stroke="#000" stroke-width="1.5" stroke-linecap="round"/>
<line x1="394.62" y1="324.4" x2="402.58" y2="324.4" stroke="#000" stroke-width="1.5" stroke-linecap="round"/>
<rect x="390.65" y="278.3" width="15.9" height="29.1" fill="#464646" stroke="#000" stroke-width="1.5"/>
<line x1="390.65" y1="290.3" x2="406.55" y2="290.3" stroke="#000" stroke-width="3.4" stroke-linecap="round"/>
<line x1="418.9" y1="247.4" x2="418.9" y2="273.9" stroke="#000" stroke-width="1.5" stroke-linecap="butt" stroke-dasharray="5.5 5.4"/>
<line x1="418.9" y1="310" x2="418.9" y2="292.7" stroke="#000" stroke-width="1.5" stroke-linecap="butt" stroke-dasharray="5.5 5.4"/>
<line x1="414.92" y1="247.4" x2="422.88" y2="247.4" stroke="#000" stroke-width="1.5" stroke-linecap="round"/>
<line x1="414.92" y1="310" x2="422.88" y2="310" stroke="#000" stroke-width="1.5" stroke-linecap="round"/>
<rect x="410.95" y="273.9" width="15.9" height="18.8" fill="#464646" stroke="#000" stroke-width="1.5"/>
<line x1="410.95" y1="284.8" x2="426.85" y2="284.8" stroke="#000" stroke-width="3.4" stroke-linecap="round"/>
<line x1="431" y1="294.8" x2="447" y2="294.8" stroke="#000" stroke-width="3.6" stroke-linecap="round"/>
<line x1="459.5" y1="314.7" x2="459.5" y2="319.8" stroke="#000" stroke-width="1.5" stroke-linecap="butt" stroke-dasharray="5.5 5.4"/>
<line x1="455.52" y1="314.7" x2="463.48" y2="314.7" stroke="#000" stroke-width="1.5" stroke-linecap="round"/>
<rect x="451.55" y="319.8" width="15.9" height="1.4" fill="#464646" stroke="#000" stroke-width="1.5"/>
<line x1="451.55" y1="320.6" x2="467.45" y2="320.6" stroke="#000" stroke-width="3.4" stroke-linecap="round"/>
<line x1="480.1" y1="329" x2="480.1" y2="323.2" stroke="#000" stroke-width="1.5" stroke-linecap="butt" stroke-dasharray="5.5 5.4"/>
<line x1="476.12" y1="317.5" x2="484.08" y2="317.5" stroke="#000" stroke-width="1.5" stroke-linecap="round"/>
<line x1="476.12" y1="329" x2="484.08" y2="329" stroke="#000" stroke-width="1.5" stroke-linecap="round"/>
<rect x="472.15" y="317.5" width="15.9" height="5.7" fill="#464646" stroke="#000" stroke-width="1.5"/>
<line x1="472.15" y1="322.7" x2="488.05" y2="322.7" stroke="#000" stroke-width="3.4" stroke-linecap="round"/>
<line x1="492.4" y1="290.4" x2="508.4" y2="290.4" stroke="#000" stroke-width="4.6" stroke-linecap="round"/>
<line x1="429" y1="233.3" x2="429" y2="380.1" stroke="#8c8c8c" stroke-width="1" stroke-linecap="butt"/>
<line x1="429" y1="234" x2="429" y2="380.1" stroke="#333" stroke-width="1" stroke-linecap="butt" stroke-dasharray="1 1"/>
<rect x="277.7" y="233.2" width="241.65" height="147.3" fill="none" stroke="#111" stroke-width="1.4"/>
<text x="281.6" y="249.4" font-size="17.4" fill="#000" font-weight="bold" text-anchor="start" stroke="#000" stroke-width="0.5">D</text>
<text x="377" y="376.8" font-size="10.4" fill="#4a4a4a" font-weight="normal" text-anchor="start" textLength="45.8" lengthAdjust="spacingAndGlyphs">Malignant</text>
<text x="483.5" y="376.8" font-size="10.4" fill="#4a4a4a" font-weight="normal" text-anchor="start" textLength="32.7" lengthAdjust="spacingAndGlyphs">Normal</text>
<line x1="296.8" y1="380.5" x2="296.8" y2="387.5" stroke="#1a1a1a" stroke-width="1.3" stroke-linecap="butt"/>
<text x="297.3" y="398" font-size="10.1" fill="#222" font-weight="normal" text-anchor="middle" textLength="13.5" lengthAdjust="spacingAndGlyphs">CLL</text>
<line x1="317.1" y1="380.5" x2="317.1" y2="387.5" stroke="#1a1a1a" stroke-width="1.3" stroke-linecap="butt"/>
<text x="317.6" y="398" font-size="10.1" fill="#222" font-weight="normal" text-anchor="middle" textLength="16.2" lengthAdjust="spacingAndGlyphs">HCL</text>
<line x1="337.5" y1="380.5" x2="337.5" y2="387.5" stroke="#1a1a1a" stroke-width="1.3" stroke-linecap="butt"/>
<text x="338" y="398" font-size="10.1" fill="#222" font-weight="normal" text-anchor="middle" textLength="16.4" lengthAdjust="spacingAndGlyphs">MCL</text>
<line x1="357.8" y1="380.5" x2="357.8" y2="387.5" stroke="#1a1a1a" stroke-width="1.3" stroke-linecap="butt"/>
<text x="358.3" y="398" font-size="10.1" fill="#222" font-weight="normal" text-anchor="middle" textLength="8.2" lengthAdjust="spacingAndGlyphs">FL</text>
<line x1="378.2" y1="380.5" x2="378.2" y2="387.5" stroke="#1a1a1a" stroke-width="1.3" stroke-linecap="butt"/>
<text x="378.7" y="398" font-size="10.1" fill="#222" font-weight="normal" text-anchor="middle" textLength="14.4" lengthAdjust="spacingAndGlyphs">dDL</text>
<line x1="398.5" y1="380.5" x2="398.5" y2="387.5" stroke="#1a1a1a" stroke-width="1.3" stroke-linecap="butt"/>
<text x="399" y="398" font-size="10.1" fill="#222" font-weight="normal" text-anchor="middle" textLength="13.1" lengthAdjust="spacingAndGlyphs">PEL</text>
<line x1="418.9" y1="380.5" x2="418.9" y2="387.5" stroke="#1a1a1a" stroke-width="1.3" stroke-linecap="butt"/>
<text x="419.4" y="398" font-size="10.1" fill="#222" font-weight="normal" text-anchor="middle" textLength="8" lengthAdjust="spacingAndGlyphs">BL</text>
<line x1="439.2" y1="380.5" x2="439.2" y2="387.5" stroke="#1a1a1a" stroke-width="1.3" stroke-linecap="butt"/>
<text x="439.7" y="398" font-size="10.1" fill="#222" font-weight="normal" text-anchor="middle" textLength="10.3" lengthAdjust="spacingAndGlyphs">NB</text>
<line x1="459.6" y1="380.5" x2="459.6" y2="387.5" stroke="#1a1a1a" stroke-width="1.3" stroke-linecap="butt"/>
<text x="460.1" y="398" font-size="10.1" fill="#222" font-weight="normal" text-anchor="middle" textLength="11.3" lengthAdjust="spacingAndGlyphs">CB</text>
<line x1="480" y1="380.5" x2="480" y2="387.5" stroke="#1a1a1a" stroke-width="1.3" stroke-linecap="butt"/>
<text x="480.5" y="398" font-size="10.1" fill="#222" font-weight="normal" text-anchor="middle" textLength="10.7" lengthAdjust="spacingAndGlyphs">CC</text>
<line x1="500.4" y1="380.5" x2="500.4" y2="387.5" stroke="#1a1a1a" stroke-width="1.3" stroke-linecap="butt"/>
<text x="500.9" y="398" font-size="10.1" fill="#222" font-weight="normal" text-anchor="middle" textLength="12.4" lengthAdjust="spacingAndGlyphs">MB</text>
</svg></body></html>
